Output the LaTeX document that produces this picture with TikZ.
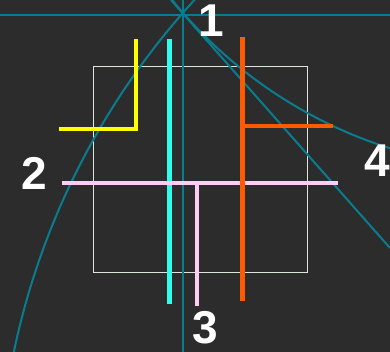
\documentclass[tikz,border=0pt]{standalone}
\usepackage{fontspec}
\setmainfont{Liberation Sans}
\begin{document}
\begin{tikzpicture}[x=1pt,y=-1pt,
  guide/.style={draw=cTeal,line width=2pt},
  bar/.style={line width=4.5pt},
  lbl/.style={text=white,font=\fontsize{46}{46}\selectfont\bfseries,inner sep=0pt}]
\definecolor{cBg}{HTML}{2C2C2C}
\definecolor{cTeal}{HTML}{0A7C90}
\definecolor{cRect}{HTML}{DDE6DD}
\definecolor{cYel}{HTML}{FFFF00}
\definecolor{cCya}{HTML}{30FCEC}
\definecolor{cOra}{HTML}{FF5A00}
\definecolor{cPink}{HTML}{FFCCF8}
\useasboundingbox (0,0) rectangle (390,352);
\fill[cBg] (0,0) rectangle (390,352);
\begin{scope}
\clip (0,0) rectangle (390,352);
% white square
\draw[cRect,line width=1pt] (93,67) rectangle (307,272);
% teal guides
\coordinate (P) at (183,13);
\draw[guide] (0,15) -- (390,15);
\draw[guide] (183,0) -- (183,352);
\draw[guide] (171,0) -- (390,248);
\draw[guide] (748,506) circle[radius=750pt];
\draw[guide] (528.6,-290) circle[radius=459.6pt];
% coloured bars
\draw[bar,draw=cYel] (136,39) -- (136,129) -- (59,129);
\draw[bar,draw=cCya] (169.5,39) -- (169.5,304);
\draw[bar,draw=cPink] (62,183) -- (338,183);
\draw[bar,draw=cPink] (197,183) -- (197,306);
\draw[bar,draw=cOra] (242.7,37) -- (242.7,301);
\draw[bar,draw=cOra] (242.7,126) -- (333,126);
\end{scope}
\node[lbl] (l1) at (211,21) {1};
\node[lbl] (l2) at (34.5,173.5) {2};
\node[lbl] (l3) at (205,328) {3};
\node[lbl,anchor=west] (l4) at (364,161) {4};
\end{tikzpicture}
\end{document}
